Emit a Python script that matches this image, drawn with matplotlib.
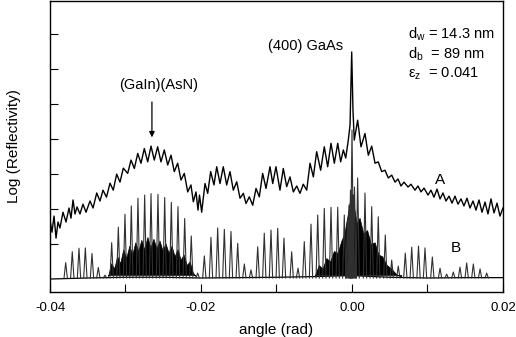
import matplotlib
matplotlib.use("Agg")
import matplotlib.pyplot as plt
import numpy as np

plt.rcParams['font.family'] = ['Liberation Sans', 'DejaVu Sans']

# curve A (mrad, log reflectivity), peaks and troughs
a_angle = [-40.00, -39.74, -39.47, -39.20, -38.94, -38.68, -38.28, -37.88, -37.48, -37.22,
           -36.95, -36.69, -36.42, -36.03, -35.63, -35.23, -34.70, -34.30, -33.81, -33.38,
           -32.98, -32.52, -32.05, -31.62, -31.17, -30.73, -30.29, -29.71, -29.27, -28.83,
           -28.38, -27.95, -27.51, -27.06, -26.62, -26.19, -25.74, -25.30, -24.86, -24.41,
           -23.97, -23.54, -23.09, -22.65, -22.21, -21.76, -21.33, -21.02, -20.66, -20.40,
           -20.20, -19.91, -19.47, -19.11, -18.72, -18.28, -17.92, -17.48, -17.05, -16.60,
           -16.16, -15.72, -15.27, -14.83, -14.39, -14.04, -13.60, -13.15, -12.71, -12.28,
           -11.83, -11.39, -10.86, -10.50, -10.07, -9.54, -9.10, -8.65, -8.21, -7.77,
           -7.32, -6.89, -6.45, -6.00, -5.56, -5.12, -4.68, -4.15, -3.67, -3.22,
           -2.78, -2.34, -1.89, -1.50, -1.15, -0.83, -0.49, -0.26, -0.04, 0.13,
           0.30, 0.75, 1.19, 1.72, 2.16, 2.61, 3.05, 3.48, 3.93, 4.37,
           4.81, 5.26, 5.70, 6.09, 6.49, 6.89, 7.42, 7.81, 8.34, 8.74,
           9.14, 9.54, 10.07, 10.46, 10.86, 11.26, 11.66, 12.05, 12.45, 12.85,
           13.25, 13.64, 14.04, 14.44, 14.83, 15.23, 15.63, 16.03, 16.42, 16.82,
           17.22, 17.62, 18.01, 18.41, 18.81, 19.21, 19.60, 20.00]
a_level = [0.69, 0.34, 0.80, 0.17, 0.63, 0.46, 0.91, 0.63, 1.03, 0.74,
           1.26, 0.86, 1.06, 0.86, 1.14, 0.91, 1.23, 1.03, 1.46, 1.23,
           1.54, 1.34, 1.74, 1.54, 2.00, 1.77, 2.17, 2.02, 2.40, 2.16,
           2.59, 2.31, 2.73, 2.35, 2.80, 2.40, 2.78, 2.35, 2.69, 2.26,
           2.54, 2.07, 2.31, 1.83, 2.02, 1.49, 1.69, 1.21, 1.49, 0.97,
           1.40, 0.91, 1.73, 1.45, 2.07, 1.69, 2.21, 1.73, 2.21, 1.69,
           2.07, 1.54, 1.78, 1.31, 1.45, 1.16, 1.35, 1.11, 1.59, 1.35,
           2.02, 1.59, 2.21, 1.73, 2.21, 1.54, 2.16, 1.64, 1.92, 1.49,
           1.66, 1.45, 1.71, 1.54, 2.31, 1.92, 2.64, 2.11, 2.78, 2.21,
           2.88, 2.31, 2.88, 2.35, 2.69, 2.46, 2.97, 3.40, 5.49, 3.83,
           2.97, 3.54, 2.78, 3.16, 2.54, 2.80, 2.31, 2.35, 2.07, 2.11,
           1.89, 1.97, 1.77, 1.86, 1.66, 1.77, 1.63, 1.71, 1.54, 1.66,
           1.49, 1.60, 1.40, 1.54, 1.34, 1.57, 1.29, 1.46, 1.23, 1.37,
           1.17, 1.37, 1.14, 1.29, 1.09, 1.31, 1.03, 1.23, 0.97, 1.26,
           0.91, 1.20, 0.86, 1.29, 0.89, 1.17, 0.80, 1.03]

# curve B: fringe peaks
b_peak_angle = [-37.92, -37.05, -36.16, -35.32, -34.44, -33.60, -32.72, -31.83, -30.95, -30.07,
                -29.23, -28.35, -27.46, -26.62, -25.70, -24.81, -23.93, -23.05, -22.16, -21.29,
                -20.44, -19.56, -18.68, -17.79, -16.91, -16.03, -15.14, -14.26, -13.38, -12.49,
                -11.62, -10.73, -9.84, -9.01, -7.99, -7.15, -6.32, -5.43, -4.54, -3.67,
                -2.78, -1.89, -1.02, -0.60, -0.40, -0.20, 0.00, 0.13, 0.33, 0.75,
                1.72, 2.61, 3.48, 4.41, 5.26, 6.13, 7.06, 7.91, 8.81, 9.67,
                10.64, 11.66, 12.54, 13.42, 14.30, 15.19, 16.07, 16.96, 17.84]
b_peak_level = [-0.53, -0.22, -0.12, -0.11, -0.27, -0.67, -0.89, 0.04, 0.48, 0.85,
                1.09, 1.31, 1.40, 1.44, 1.42, 1.33, 1.19, 1.07, 0.73, 0.23,
                -0.83, -0.34, 0.19, 0.46, 0.42, 0.36, 0.02, -0.57, -0.74, -0.08,
                0.31, 0.40, 0.45, 0.17, -0.22, -0.69, 0.07, 0.57, 0.83, 1.02,
                1.05, 1.05, 0.83, 0.69, 1.11, 1.54, 3.26, 1.40, 1.63, 1.89,
                1.46, 1.07, 0.78, 0.26, -0.46, -0.63, -0.26, -0.09, -0.06, -0.11,
                -0.37, -0.69, -0.86, -0.80, -0.66, -0.54, -0.57, -0.71, -0.83]
# curve B: background between fringes
b_base_angle = [-40, -35, -30, -25, -20, -15, -10, -5, 0, 5, 10, 15, 20]
b_base_level = [-1.00, -0.97, -0.95, -0.95, -0.97, -0.96, -0.95, -0.93, -0.90, -0.95, -0.97, -0.96, -0.96]
b_floor = -0.97

# dense fine-fringe bands of curve B (upper envelope)
band1_angle = [-32.3, -31.9, -31.5, -31.1, -30.7, -30.3, -29.9, -29.5, -29.1, -28.7,
               -28.3, -27.9, -27.5, -27.1, -26.7, -26.3, -25.9, -25.5, -25.1, -24.7,
               -24.3, -23.9, -23.5, -23.1, -22.7, -22.3, -21.9, -21.5, -21.1, -20.8]
band1_top = [-0.91, -0.55, -0.70, -0.35, -0.55, -0.15, -0.40, -0.05, -0.30, 0.05,
             -0.20, 0.12, -0.15, 0.20, -0.10, 0.15, -0.12, 0.10, -0.18, 0.02,
             -0.25, -0.05, -0.35, -0.15, -0.45, -0.30, -0.60, -0.50, -0.80, -0.91]
band2_angle = [-4.9, -4.4, -3.9, -3.4, -2.9, -2.4, -1.9, -1.4, -1.0, -0.6,
               -0.3, 0.3, 0.6, 1.0, 1.5, 2.0, 2.5, 3.0, 3.5, 4.0,
               4.6, 5.2, 5.8, 6.5]
band2_top = [-0.89, -0.60, -0.70, -0.40, -0.50, -0.20, -0.25, 0.10, 0.30, 0.80,
             1.20, 1.00, 0.60, 0.75, 0.30, 0.40, 0.00, 0.05, -0.30, -0.35,
             -0.60, -0.70, -0.85, -0.94]
band_floor = -0.88

fig = plt.figure(figsize=(5.16, 3.37), dpi=100)
ax = fig.add_axes([0.0969, 0.1335, 0.8779, 0.8645])

ax.plot(np.array(a_angle) / 1000, a_level, color='black', lw=1.0)

# each B fringe drawn as a narrow spike standing on the background
half = 0.22  # spike half width, mrad
pk = np.array(b_peak_angle)
spike_x = np.column_stack([pk - half, pk, pk + half, pk + half]).ravel() / 1000
spike_y = np.column_stack([np.full(len(pk), b_floor), b_peak_level,
                           np.full(len(pk), b_floor), np.full(len(pk), np.nan)]).ravel()
ax.plot(np.array(b_base_angle) / 1000, b_base_level, color='black', lw=0.9)
ax.fill_between(np.array(band1_angle) / 1000, band_floor, band1_top, color='black', lw=0.5)
ax.fill_between(np.array(band2_angle) / 1000, band_floor, band2_top, color='black', lw=0.5)
ax.plot(spike_x, spike_y, color='#303030', lw=0.8)

ax.set_xlim(-0.04, 0.02)
ax.set_ylim(-1.371, 6.957)
ax.set_xticks([-0.04, -0.02, 0.00, 0.02])
ax.set_xticklabels(['-0.04', '-0.02', '0.00', '0.02'])
ax.set_xticks([-0.03, -0.01, 0.01], minor=True)
ax.set_yticks([0, 1, 2, 3, 4, 5, 6])
ax.set_yticklabels([])
ax.tick_params(direction='in', length=6, width=0.8, labelsize=9.5, pad=7)
ax.tick_params(which='minor', direction='in', length=6, width=0.8)
ax.tick_params(axis='y', right=False)
for s in ax.spines.values():
    s.set_linewidth(1.0)

ax.set_xlabel('angle (rad)', fontsize=11, labelpad=7)
ax.set_ylabel('Log (Reflectivity)', fontsize=11, labelpad=14)

ax.text(-0.02556, 4.54, '(GaIn)(AsN)', fontsize=10.5, ha='center', va='center')
ax.annotate('', xy=(-0.0265, 2.97), xytext=(-0.0265, 4.14),
            arrowprops=dict(arrowstyle='-|>', color='black', lw=0.9, mutation_scale=8))
ax.text(-0.00119, 5.66, '(400) GaAs', fontsize=10.5, ha='right', va='center')
ax.text(0.00742, 6.0, 'd$_\\mathregular{w}$ = 14.3 nm', fontsize=10.5, ha='left', va='center')
ax.text(0.00742, 5.43, 'd$_\\mathregular{b}$  = 89 nm', fontsize=10.5, ha='left', va='center')
ax.text(0.00742, 4.86, '\u03b5$_\\mathregular{z}$  = 0.041', fontsize=10.5, ha='left', va='center')
ax.text(0.01166, 1.83, 'A', fontsize=11, ha='center', va='center')
ax.text(0.01377, -0.11, 'B', fontsize=11, ha='center', va='center')

fig.savefig('out.png', dpi=100)
